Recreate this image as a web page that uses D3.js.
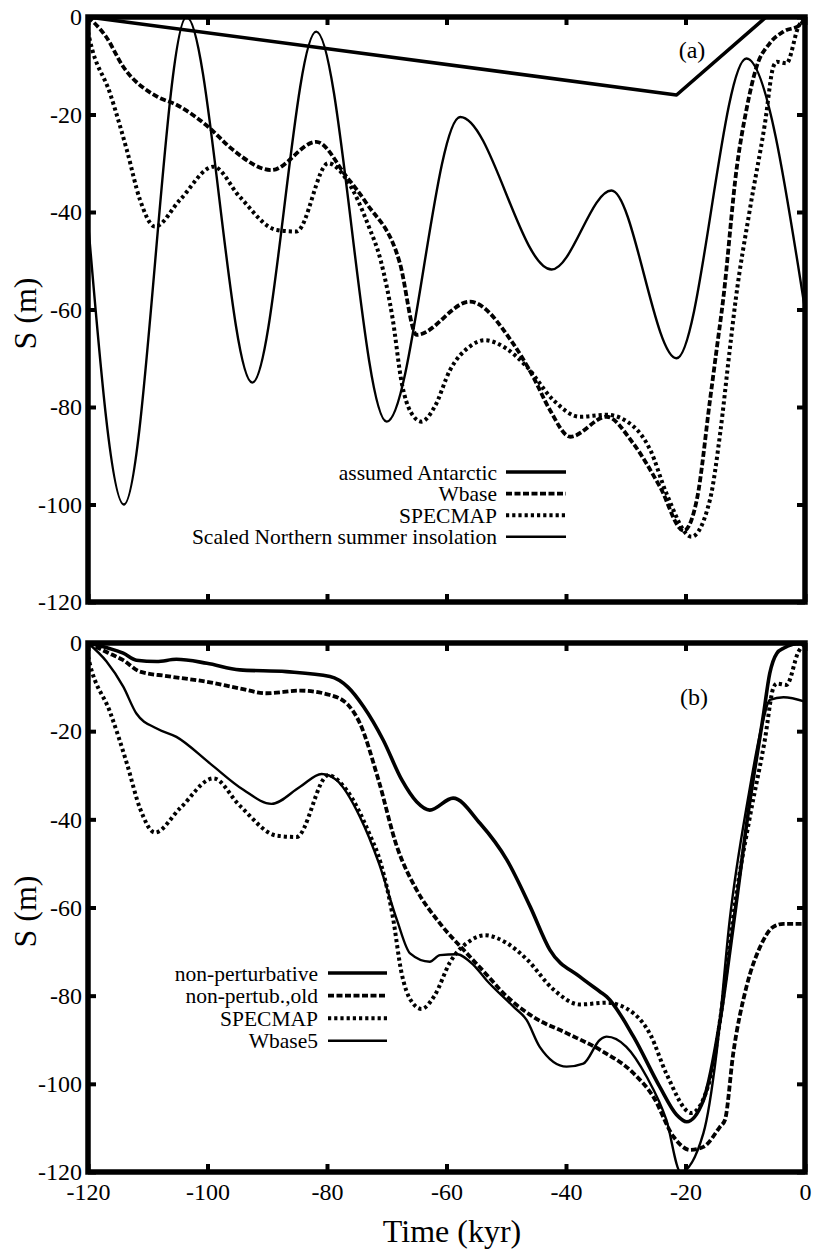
<!DOCTYPE html>
<html lang="en">
<head>
<meta charset="UTF-8">
<title>sea level S (m) against time</title>
<script src="https://d3js.org/d3.v7.min.js"></script>
<style>
    body {
        margin: 0;
        background: #fff;
    }
    svg {
        display: block;
        font-family: "Liberation Serif", "Times New Roman", serif;
    }
    .tick text {
        font-size: 24px;
        fill: #000;
    }
    .legend text {
        font-size: 21.5px;
    }
</style>
</head>
<body>
<script>
    const width = 818;
    const height = 1250;
    const plotLeft = 88;
    const plotRight = 805;

    // tick values
    const timeTicks = [-120, -100, -80, -60, -40, -20, 0];
    const levelTicks = [0, -20, -40, -60, -80, -100, -120];

    // panel (a) series, [time kyr, S m]
    const antarctic = [[-120, 0], [-21.5, -16], [-6.5, 0], [0, 0]];
    const wbase = [
        [-120, 0], [-117, -4], [-114.1, -10.2], [-108.5, -16.3], [-105.2, -18], [-99.9, -22.5],
        [-95.7, -27.3], [-89.3, -31.4], [-81.8, -25.6], [-76.7, -32.8], [-73.4, -38.2],
        [-67.8, -50.5], [-65, -65.2], [-56.1, -58.4], [-48.9, -66.9], [-45.5, -73.8],
        [-42.7, -80.6], [-39.3, -86.1], [-33.2, -82], [-28.8, -87.4], [-24.3, -96.3],
        [-20.3, -105.4], [-18.1, -99], [-15.9, -78.6], [-14.8, -68.3], [-13.7, -58],
        [-11.4, -30.7], [-9.8, -19], [-8.1, -10.2], [-5.9, -5.4], [-3.6, -3], [-0.8, -1.6], [0, 0]
    ];
    const specmap = [
        [-120, -3], [-119.7, -4.7], [-116.3, -15.7], [-113.5, -27.3], [-111.3, -37.5],
        [-108.8, -43], [-104.6, -37.5], [-99, -30.7], [-94.6, -36.9], [-88.4, -43.7],
        [-85.1, -44], [-79.8, -30], [-76.7, -33.4], [-73, -43], [-71, -50], [-69, -62],
        [-67.5, -75], [-66, -81], [-64.2, -83], [-62, -80], [-59.4, -72.4], [-56, -67.5],
        [-53.6, -66.3], [-50, -68], [-46.6, -71.7], [-42.1, -78.6], [-37.7, -82],
        [-33.2, -81.6], [-28.7, -84], [-25.9, -88.8], [-23.2, -97.7], [-19, -106.6],
        [-15.9, -99], [-14.2, -85.4], [-12.6, -68.3], [-11.6, -58], [-9.3, -40],
        [-6.7, -21.8], [-5.3, -10.2], [-4.7, -9.2], [-3.1, -9.5], [-1.1, -2], [0, 0]
    ];
    const insolation = [
        [-120, -42], [-114, -100], [-103.5, 0], [-92.5, -75], [-81.8, -3], [-70, -83],
        [-57.7, -20.5], [-42.4, -51.8], [-32.4, -35.6], [-21.5, -70], [-9.8, -8.5], [0, -60]
    ];

    // panel (b) series
    const nonPerturbative = [
        [-120, 0], [-117, -1], [-114.1, -2.3], [-111.9, -3.9], [-108.5, -4.2], [-105.2, -3.7],
        [-100.1, -4.6], [-94.6, -6.1], [-86.8, -6.5], [-79.5, -7.6], [-76.5, -10],
        [-73.9, -14.4], [-70.6, -22], [-67.5, -31], [-65, -36], [-62.8, -37.9], [-58.9, -35.2],
        [-54.4, -40.9], [-49.9, -49.2], [-46, -59.8], [-42.7, -69.6], [-37.7, -75.7],
        [-34.3, -79.1], [-33.2, -80.2], [-28.7, -89.3], [-24.3, -100.7], [-21.5, -107],
        [-19.8, -108.6], [-17, -103.7], [-14.2, -85.5], [-12, -64], [-9.2, -35.6],
        [-7, -16.7], [-5.9, -6.9], [-4.7, -2.3], [-3.6, -1.2], [-2, -0.3], [0, 0]
    ];
    const nonPertubOld = [
        [-120, 0], [-117, -2], [-114.1, -3.9], [-111.3, -6.5], [-106.8, -7.5], [-100.1, -8.8],
        [-94.6, -10.3], [-90.1, -11.4], [-84.5, -10.8], [-79.5, -11.8], [-76.5, -14],
        [-74.5, -18.2], [-71.4, -31], [-68.3, -46.2], [-65, -56], [-61.1, -63.6],
        [-56.6, -70.4], [-52.7, -76.1], [-51, -78.7], [-45.5, -84.8], [-39.9, -88.5],
        [-34.3, -92.3], [-28.7, -97.6], [-25.4, -102.9], [-22, -112], [-19.2, -115],
        [-17, -114.3], [-14.2, -109.7], [-13.4, -108.2], [-12, -93], [-9.8, -78],
        [-7.5, -68.9], [-5.3, -64.4], [-3.6, -63.7], [0, -63.7]
    ];
    const wbase5 = [
        [-120, 0], [-116.9, -4.2], [-114.1, -9.9], [-111.9, -16], [-108.5, -19.4],
        [-105.2, -21.3], [-99.6, -27.3], [-94, -33.3], [-89.3, -36.5], [-84.5, -32.6],
        [-80.9, -29.7], [-78.4, -31.1], [-74.5, -39.4], [-71.3, -50], [-68.3, -62.8],
        [-66.1, -70.4], [-62.8, -72.3], [-61.1, -70.8], [-58.3, -70.6], [-55.5, -73],
        [-53.3, -76.5], [-48.8, -82.5], [-46.6, -85.5], [-44.4, -91.6], [-39.9, -96.1],
        [-37.1, -95.4], [-34.3, -90], [-33.2, -89.3], [-29.9, -91.6], [-26.5, -98.4],
        [-23.2, -108.2], [-20.8, -120], [-17, -111.2], [-14.8, -93], [-12.6, -62.8],
        [-9.5, -35], [-7, -17.5], [-5.9, -12.9], [-3.6, -12.3], [0, -13.3]
    ];

    const legendA = ["assumed Antarctic", "Wbase", "SPECMAP", "Scaled Northern summer insolation"];
    const legendB = ["non-perturbative", "non-pertub.,old", "SPECMAP", "Wbase5"];

    // line looks
    const styles = {
        thick: {width: 3.6, dash: null},
        dashed: {width: 3.8, dash: "6,2.5"},
        dotted: {width: 4, dash: "3.2,3"},
        thin: {width: 2.4, dash: null}
    };

    const panels = [
        {
            top: 17, bottom: 602, tag: "(a)", tagX: 692, tagY: 50,
            series: [
                {data: antarctic, style: "thick", curve: d3.curveLinear},
                {data: wbase, style: "dashed"},
                {data: specmap, style: "dotted"},
                {data: insolation, style: "thin"}
            ],
            legend: legendA, legendStyles: ["thick", "dashed", "dotted", "thin"],
            legendX: 497, legendY: 472, legendStep: 21.6, lineX: [506, 566],
            labels: false
        },
        {
            top: 643, bottom: 1172, tag: "(b)", tagX: 694, tagY: 697,
            series: [
                {data: nonPerturbative, style: "thick"},
                {data: nonPertubOld, style: "dashed"},
                {data: specmap, style: "dotted"},
                {data: wbase5, style: "thin"}
            ],
            legend: legendB, legendStyles: ["thick", "dashed", "dotted", "thin"],
            legendX: 318, legendY: 973, legendStep: 22.6, lineX: [328, 387],
            labels: true
        }
    ];

    const svg = d3.select("body").append("svg")
        .attr("width", width)
        .attr("height", height)
        .attr("viewBox", [0, 0, width, height]);

    svg.append("rect")
        .attr("width", width)
        .attr("height", height)
        .attr("fill", "#fff");

    const x = d3.scaleLinear().domain([-120, 0]).range([plotLeft, plotRight]);

    panels.forEach(p => {
        const y = d3.scaleLinear().domain([-120, 0]).range([p.bottom, p.top]);
        const g = svg.append("g");

        const line = d3.line()
            .x(d => x(d[0]))
            .y(d => y(d[1]));

        // curves
        p.series.forEach(s => {
            const st = styles[s.style];
            g.append("path")
                .datum(s.data)
                .attr("fill", "none")
                .attr("stroke", "#000")
                .attr("stroke-width", st.width)
                .attr("stroke-dasharray", st.dash)
                .attr("stroke-linejoin", "round")
                .attr("d", line.curve(s.curve || d3.curveMonotoneX));
        });

        // frame
        g.append("rect")
            .attr("x", plotLeft)
            .attr("y", p.top)
            .attr("width", plotRight - plotLeft)
            .attr("height", p.bottom - p.top)
            .attr("fill", "none")
            .attr("stroke", "#000")
            .attr("stroke-width", 5.5);

        // ticks, pointing inward on all four sides
        const tickLen = -8;
        const axes = [
            g.append("g").attr("transform", `translate(${plotLeft},0)`)
                .call(d3.axisLeft(y).tickValues(levelTicks).tickSize(tickLen).tickPadding(6).tickFormat(d => String(d))),
            g.append("g").attr("transform", `translate(${plotRight},0)`)
                .call(d3.axisRight(y).tickValues(levelTicks).tickSize(tickLen).tickFormat("")),
            g.append("g").attr("transform", `translate(0,${p.top})`)
                .call(d3.axisTop(x).tickValues(timeTicks).tickSize(tickLen).tickFormat("")),
            g.append("g").attr("transform", `translate(0,${p.bottom})`)
                .call(d3.axisBottom(x).tickValues(timeTicks).tickSize(tickLen).tickPadding(11)
                    .tickFormat(p.labels ? d => String(d) : ""))
        ];
        axes.forEach(a => {
            a.attr("font-family", null).attr("font-size", null);
            a.select(".domain").remove();
            a.selectAll(".tick line").attr("stroke", "#000").attr("stroke-width", 4);
            a.selectAll(".tick text").attr("fill", "#000");
        });

        // panel tag
        g.append("text")
            .attr("x", p.tagX)
            .attr("y", p.tagY)
            .attr("dy", "0.35em")
            .attr("text-anchor", "middle")
            .style("font-size", "24px")
            .text(p.tag);

        // y title
        g.append("text")
            .attr("transform", `translate(25,${(p.top + p.bottom) / 2 + 4}) rotate(-90)`)
            .attr("dy", "0.35em")
            .attr("text-anchor", "middle")
            .style("font-size", "32px")
            .text("S (m)");

        // legend
        const leg = g.append("g").attr("class", "legend");
        p.legend.forEach((name, i) => {
            const ly = p.legendY + i * p.legendStep;
            const st = styles[p.legendStyles[i]];
            leg.append("text")
                .attr("x", p.legendX)
                .attr("y", ly)
                .attr("dy", "0.35em")
                .attr("text-anchor", "end")
                .text(name);
            leg.append("line")
                .attr("x1", p.lineX[0])
                .attr("x2", p.lineX[1])
                .attr("y1", ly)
                .attr("y2", ly)
                .attr("stroke", "#000")
                .attr("stroke-width", st.width)
                .attr("stroke-dasharray", st.dash);
        });
    });

    svg.append("text")
        .attr("x", 452)
        .attr("y", 1242)
        .attr("text-anchor", "middle")
        .style("font-size", "32px")
        .text("Time (kyr)");
</script>
</body>
</html>
